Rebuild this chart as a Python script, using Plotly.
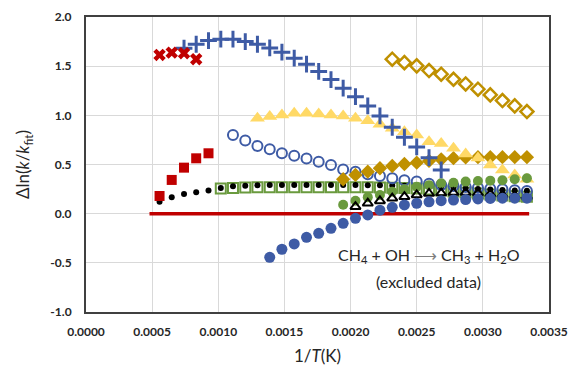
import plotly.graph_objects as go

# 1/T grid (K^-1) (common grid of all series)
x_grid = [0.000556, 0.000648, 0.000741, 0.000833, 0.000926, 0.001019, 0.001111,
          0.001204, 0.001296, 0.001389, 0.001481, 0.001574, 0.001667, 0.001759,
          0.001852, 0.001944, 0.002037, 0.002130, 0.002222, 0.002315, 0.002407,
          0.002500, 0.002593, 0.002685, 0.002778, 0.002870, 0.002963, 0.003056,
          0.003148, 0.003241, 0.003333]

red_x_y = [1.614, 1.638, 1.632, 1.571]                       # i0..i3
plus_y = [1.683, 1.723, 1.760, 1.774, 1.774, 1.750, 1.723, 1.686, 1.642, 1.581,
          1.520, 1.447, 1.364, 1.276, 1.190, 1.096, 0.994, 0.879, 0.777, 0.679,
          0.569, 0.445]                                      # i2..i23
red_sq_y = [0.180, 0.343, 0.468, 0.563, 0.614]               # i0..i4
black_dot_y = [0.120, 0.167, 0.200, 0.218, 0.236, 0.262, 0.280, 0.285, 0.290,
               0.292, 0.292, 0.292, 0.292, 0.292, 0.292, 0.292, 0.292, 0.290,
               0.288, 0.286, 0.284, 0.280, 0.275, 0.268, 0.262, 0.256, 0.250,
               0.245, 0.240, 0.236, 0.232]                   # i0..i30
green_sq_y = [0.255, 0.262, 0.265, 0.268, 0.268, 0.268, 0.268, 0.268, 0.268,
              0.268, 0.268, 0.268, 0.268, 0.266, 0.264, 0.260, 0.255, 0.245,
              0.235, 0.225, 0.215, 0.205, 0.195, 0.185, 0.178, 0.172]  # i5..i30
open_circ_y = [0.800, 0.743, 0.689, 0.655, 0.614, 0.590, 0.562, 0.529, 0.495,
               0.450, 0.427, 0.401, 0.384, 0.360, 0.340, 0.326, 0.305, 0.292,
               0.282, 0.272, 0.264, 0.254, 0.248, 0.238, 0.231]  # i6..i30
tri_y = [0.970, 0.987, 1.004, 1.021, 1.021, 1.014, 1.004, 0.994, 0.970, 0.946,
         0.909, 0.869, 0.834, 0.800, 0.732, 0.714, 0.665, 0.607, 0.567, 0.495,
         0.445, 0.394, 0.350]                                # i8..i30
open_dia_y = [1.571, 1.536, 1.503, 1.455, 1.418, 1.367, 1.319, 1.266, 1.208,
              1.150, 1.096, 1.038]                           # i19..i30
fill_dia_y = [0.350, 0.394, 0.427, 0.462, 0.485, 0.505, 0.519, 0.536, 0.553,
              0.564, 0.572, 0.574, 0.575, 0.575, 0.575, 0.575]  # i15..i30
green_circ_y = [0.090, 0.132, 0.168, 0.190, 0.224, 0.248, 0.275, 0.290, 0.309,
                0.315, 0.326, 0.333, 0.336, 0.340, 0.350, 0.360]  # i15..i30
blue_circ_y = [-0.444, -0.362, -0.308, -0.240, -0.200, -0.149, -0.098, -0.047,
               -0.013, 0.035, 0.065, 0.089, 0.106, 0.120, 0.132, 0.138, 0.143,
               0.150, 0.155, 0.158, 0.158, 0.158]            # i9..i30
open_tri_y = [0.071, 0.106, 0.129, 0.157, 0.173, 0.190, 0.205, 0.210, 0.215,
              0.215, 0.210, 0.200, 0.190, 0.180, 0.175]      # i16..i30
ref_line_x = [0.00048, 0.00335]
ref_line_y = [0.0, 0.0]

x_ticks = [0.0, 0.0005, 0.0010, 0.0015, 0.0020, 0.0025, 0.0030, 0.0035]
y_ticks = [-1.0, -0.5, 0.0, 0.5, 1.0, 1.5, 2.0]

def xs(start, ys):
    return x_grid[start:start + len(ys)]

BLUE = "#3E5BA5"
RED = "#C00000"
GOLD = "#BF9000"
YEL = "#FFD966"
GREEN = "#6A9A3E"

fig = go.Figure()
fig.add_trace(go.Scatter(x=ref_line_x, y=ref_line_y, mode="lines",
                         line=dict(color=RED, width=3.5)))
fig.add_trace(go.Scatter(x=xs(5, green_sq_y), y=green_sq_y, mode="markers",
                         marker=dict(symbol="square-open", size=10, color=GREEN,
                                     line=dict(width=2, color=GREEN))))
fig.add_trace(go.Scatter(x=xs(0, black_dot_y), y=black_dot_y, mode="markers",
                         marker=dict(symbol="circle", size=6, color="black")))
fig.add_trace(go.Scatter(x=xs(0, red_sq_y), y=red_sq_y, mode="markers",
                         marker=dict(symbol="square", size=10, color=RED)))
fig.add_trace(go.Scatter(x=xs(6, open_circ_y), y=open_circ_y, mode="markers",
                         marker=dict(symbol="circle-open", size=10, color=BLUE,
                                     line=dict(width=2, color=BLUE))))
fig.add_trace(go.Scatter(x=xs(15, fill_dia_y), y=fill_dia_y, mode="markers",
                         marker=dict(symbol="diamond", size=11, color=GOLD)))
fig.add_trace(go.Scatter(x=xs(8, tri_y), y=tri_y, mode="markers",
                         marker=dict(symbol="triangle-up", size=13, color=YEL)))
fig.add_trace(go.Scatter(x=xs(19, open_dia_y), y=open_dia_y, mode="markers",
                         marker=dict(symbol="diamond-open", size=10, color=GOLD,
                                     line=dict(width=2.5, color=GOLD))))
fig.add_trace(go.Scatter(x=xs(15, green_circ_y), y=green_circ_y, mode="markers",
                         marker=dict(symbol="circle", size=10, color=GREEN)))
fig.add_trace(go.Scatter(x=xs(16, open_tri_y), y=open_tri_y, mode="markers",
                         marker=dict(symbol="triangle-up-open", size=9, color="black",
                                     line=dict(width=2, color="black"))))
fig.add_trace(go.Scatter(x=xs(9, blue_circ_y), y=blue_circ_y, mode="markers",
                         marker=dict(symbol="circle", size=11, color=BLUE)))
fig.add_trace(go.Scatter(x=xs(2, plus_y), y=plus_y, mode="markers",
                         marker=dict(symbol="cross-thin-open", size=12, color=BLUE,
                                     line=dict(width=3, color=BLUE))))
fig.add_trace(go.Scatter(x=xs(0, red_x_y), y=red_x_y, mode="markers",
                         marker=dict(symbol="x", size=11, color=RED)))

FONT = "Lato, 'Open Sans', sans-serif"
fig.add_annotation(x=0.00259, y=-0.43, xref="x", yref="y",
                   text="CH<sub>4</sub> + OH <span style='color:#808080'>⟶</span> CH<sub>3</sub> + H<sub>2</sub>O",
                   showarrow=False, font=dict(family=FONT, size=16, color="#262626"))
fig.add_annotation(x=0.00259, y=-0.69, xref="x", yref="y",
                   text="(excluded data)", showarrow=False,
                   font=dict(family=FONT, size=16, color="#262626"))

axis_common = dict(showgrid=True, gridcolor="#D9D9D9", gridwidth=1, zeroline=False,
                   showline=True, mirror=True, linecolor="#404040", linewidth=2,
                   tickfont=dict(family=FONT, size=12, color="#262626"))
fig.update_xaxes(range=[0, 0.0035], tickmode="array", tickvals=x_ticks,
                 ticktext=["<b>%.4f</b>" % v for v in x_ticks],
                 ticks="outside", ticklen=8, tickcolor="rgba(0,0,0,0)",
                 title=dict(text="1/<i>T</i>(K)", font=dict(family=FONT, size=17, color="#262626"),
                            standoff=12),
                 **axis_common)
fig.update_yaxes(range=[-1, 2], tickmode="array", tickvals=y_ticks,
                 ticktext=["<b>%.1f</b>" % v for v in y_ticks],
                 ticks="outside", ticklen=10, tickcolor="rgba(0,0,0,0)",
                 title=dict(text="Δln(<i>k</i>/<i>k</i><sub>fit</sub>)",
                            font=dict(family=FONT, size=17, color="#262626"), standoff=16),
                 **axis_common)
fig.update_layout(width=570, height=366, showlegend=False,
                  margin=dict(l=86, r=21, t=17, b=54, autoexpand=False),
                  paper_bgcolor="white", plot_bgcolor="white")
fig.write_html("out.html")
